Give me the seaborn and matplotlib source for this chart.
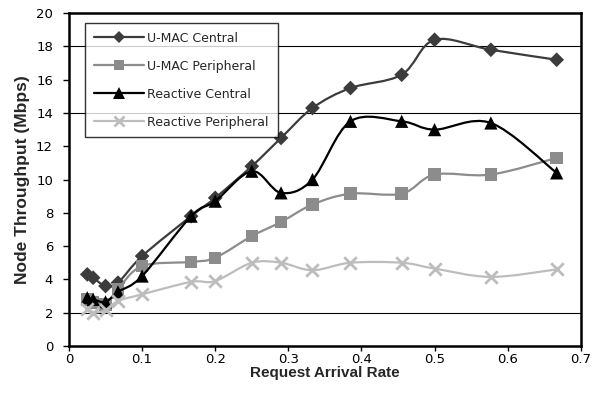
import numpy as np
import pandas as pd
import matplotlib
matplotlib.use("Agg")
import matplotlib.pyplot as plt
from matplotlib.path import Path
from matplotlib.patches import PathPatch
from matplotlib.lines import Line2D
import seaborn as sns

# Request arrival rates shared by every series
arrival_rate = [0.025, 0.033, 0.05, 0.067, 0.1, 0.167, 0.2, 0.25, 0.29,
                0.333, 0.385, 0.455, 0.5, 0.577, 0.667]

# Node throughput (Mbps)
umac_central = [4.3, 4.1, 3.6, 3.8, 5.4, 7.8, 8.9, 10.8, 12.5,
                14.3, 15.5, 16.3, 18.4, 17.8, 17.2]
umac_peripheral = [2.8, 2.6, 2.5, 3.4, 4.8, 5.05, 5.3, 6.6, 7.45,
                   8.5, 9.15, 9.15, 10.3, 10.3, 11.3]
reactive_central = [2.9, 2.8, 2.65, 3.25, 4.2, 7.8, 8.7, 10.5, 9.2,
                    10.0, 13.5, 13.5, 13.0, 13.4, 10.4]
reactive_peripheral = [2.2, 2.0, 2.15, 2.7, 3.1, 3.85, 3.9, 5.0, 5.0,
                       4.55, 5.0, 5.0, 4.65, 4.15, 4.6]

series_names = ["U-MAC Central", "U-MAC Peripheral",
                "Reactive Central", "Reactive Peripheral"]
series_values = [umac_central, umac_peripheral,
                 reactive_central, reactive_peripheral]

x_ticks = [0, 0.1, 0.2, 0.3, 0.4, 0.5, 0.6, 0.7]
y_ticks = list(range(0, 21, 2))
grid_levels = [2, 14, 18]

styles = {
    "U-MAC Central": dict(color="#3c3c3c", marker="D", ms=7.5),
    "U-MAC Peripheral": dict(color="#8c8c8c", marker="s", ms=9),
    "Reactive Central": dict(color="#000000", marker="^", ms=9.5),
    "Reactive Peripheral": dict(color="#bdbdbd", marker="x", ms=9),
}

df = pd.concat(
    [pd.DataFrame({"rate": arrival_rate, "throughput": vals, "series": name})
     for name, vals in zip(series_names, series_values)],
    ignore_index=True,
)

sns.set_theme(style="white")
plt.rcParams["font.family"] = ["DejaVu Sans"]

LABEL_FONT = ["Liberation Sans", "DejaVu Sans"]


def smooth_path(xs, ys):
    """Cubic Bezier path through the points (Catmull-Rom tangents)."""
    pts = np.column_stack([xs, ys]).astype(float)
    n = len(pts)
    verts = [pts[0]]
    codes = [Path.MOVETO]
    for i in range(n - 1):
        p0 = pts[max(i - 1, 0)]
        p1 = pts[i]
        p2 = pts[i + 1]
        p3 = pts[min(i + 2, n - 1)]
        c1 = p1 + (p2 - p0) / 6.0
        c2 = p2 - (p3 - p1) / 6.0
        verts += [c1, c2, p2]
        codes += [Path.CURVE4] * 3
    return Path(verts, codes)


fig = plt.figure(figsize=(6.0, 3.99), dpi=100)
ax = fig.add_axes([0.115, 0.133, 0.853, 0.834])

for y in grid_levels:
    ax.axhline(y, color="black", lw=0.8, zorder=1)

handles = []
for k, name in enumerate(series_names):
    st = styles[name]
    sub = df[df["series"] == name]
    patch = PathPatch(smooth_path(sub["rate"], sub["throughput"]),
                      facecolor="none", edgecolor=st["color"], lw=1.6,
                      zorder=2 + 2 * k)
    ax.add_patch(patch)
    if st["marker"] == "x":
        sns.scatterplot(data=sub, x="rate", y="throughput", marker="x",
                        color=st["color"], s=st["ms"] ** 2, linewidth=2.0,
                        ax=ax, zorder=3 + 2 * k, legend=False)
    else:
        sns.scatterplot(data=sub, x="rate", y="throughput",
                        marker=st["marker"], color=st["color"],
                        s=st["ms"] ** 2, linewidth=0, edgecolor="none",
                        ax=ax, zorder=3 + 2 * k, legend=False)
    handles.append(Line2D([], [], color=st["color"], lw=1.6,
                          marker=st["marker"], markersize=st["ms"] * 0.85,
                          markeredgewidth=2.0 if st["marker"] == "x" else 0,
                          label=name))

ax.set_xlim(0, 0.7)
ax.set_ylim(0, 20)
ax.set_xticks(x_ticks)
ax.set_xticklabels([f"{t:g}" for t in x_ticks])
ax.set_yticks(y_ticks)
ax.tick_params(axis="both", labelsize=9.5, colors="black")
ax.tick_params(axis="y", direction="out", length=4.5, width=1, left=True, pad=7)
ax.tick_params(axis="x", direction="out", length=3.5, width=1, bottom=True, pad=1.5)

for side in ["left", "bottom", "top", "right"]:
    ax.spines[side].set_visible(True)
    ax.spines[side].set_color("black")
    ax.spines[side].set_linewidth(1.8)

ax.set_xlabel("Request Arrival Rate", fontsize=11, fontweight="bold",
              family=LABEL_FONT, labelpad=0)
ax.set_ylabel("Node Throughput (Mbps)", fontsize=12.5, fontweight="bold",
              family=LABEL_FONT, labelpad=4)

leg = ax.legend(handles=handles, loc="upper left",
                bbox_to_anchor=(0.031, 0.971), fontsize=9,
                frameon=True, fancybox=False, edgecolor="black",
                handlelength=4.0, handletextpad=0.3, labelspacing=1.2,
                borderpad=0.7, borderaxespad=0)
leg.get_frame().set_linewidth(1.0)
leg.set_zorder(20)

fig.savefig("out.png", dpi=100)
